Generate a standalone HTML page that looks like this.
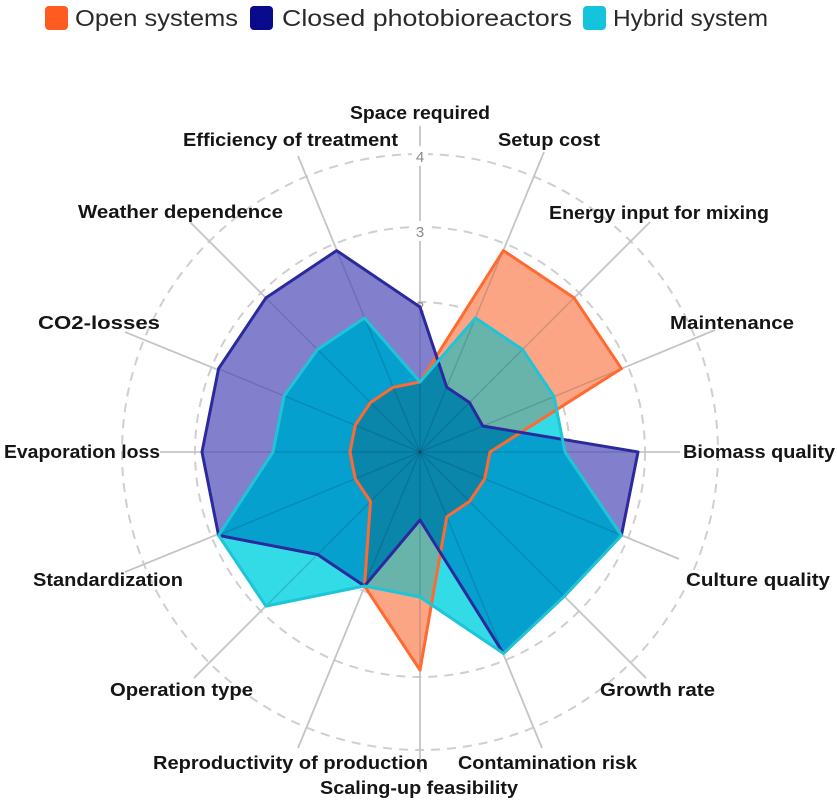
<!DOCTYPE html>
<html><head><meta charset="utf-8"><style>
html,body{margin:0;padding:0;background:#fff;}
svg{display:block;}
.lb{font-family:"Liberation Sans",sans-serif;font-weight:bold;font-size:18px;fill:#151515;}
.lg{font-family:"Liberation Sans",sans-serif;font-size:23px;fill:#2a2a2a;}
.tk{font-family:"Liberation Sans",sans-serif;font-size:15px;fill:#8a8a8a;}
</style></head><body>
<svg width="837" height="803" viewBox="0 0 837 803" xmlns="http://www.w3.org/2000/svg">
<defs>
<clipPath id="cP"><polygon points="420,307 446.8,387.3 469.5,402.5 482.8,426 638,452 621.4,535.4 564.2,596.2 503.4,653.4 420,520 364.5,586 317.5,554.5 218.6,535.4 202,452 218.6,368.6 265.9,297.9 336.6,250.6"/></clipPath>
<clipPath id="cO"><polygon points="420,382 503.4,250.6 574.1,297.9 621.4,368.6 490,452 484.7,478.8 469.5,501.5 446.8,516.7 420,670 364.5,586 370.5,501.5 355.3,478.8 350,452 355.3,425.2 370.5,402.5 393.2,387.3"/></clipPath>
</defs>
<!-- legend -->
<rect x="45" y="6" width="23" height="24" rx="4" fill="#ff5a1f"/>
<text class="lg" x="75" y="26" textLength="163" lengthAdjust="spacingAndGlyphs">Open systems</text>
<rect x="250" y="6" width="23" height="24" rx="4" fill="#0a0a8c"/>
<text class="lg" x="282" y="26" textLength="290" lengthAdjust="spacingAndGlyphs">Closed photobioreactors</text>
<rect x="583" y="6" width="23" height="24" rx="4" fill="#14c4dc"/>
<text class="lg" x="613" y="26" textLength="155" lengthAdjust="spacingAndGlyphs">Hybrid system</text>

<!-- grid circles -->
<g fill="none" stroke="#cfcfcf" stroke-width="2" stroke-dasharray="9 7">
<circle cx="420" cy="452" r="75"/><circle cx="420" cy="452" r="150"/><circle cx="420" cy="452" r="225"/><circle cx="420" cy="452" r="298"/>
</g>
<!-- axes -->
<g stroke="#c4c4c4" stroke-width="1.8">
<line x1="420" y1="452" x2="420" y2="126"/>
<line x1="420" y1="452" x2="544" y2="152"/>
<line x1="420" y1="452" x2="650" y2="222"/>
<line x1="420" y1="452" x2="715" y2="330"/>
<line x1="420" y1="452" x2="680" y2="452"/>
<line x1="420" y1="452" x2="679" y2="559"/>
<line x1="420" y1="452" x2="646" y2="678"/>
<line x1="420" y1="452" x2="542" y2="748"/>
<line x1="420" y1="452" x2="420" y2="772"/>
<line x1="420" y1="452" x2="298" y2="748"/>
<line x1="420" y1="452" x2="194" y2="678"/>
<line x1="420" y1="452" x2="125" y2="572"/>
<line x1="420" y1="452" x2="160" y2="452"/>
<line x1="420" y1="452" x2="125" y2="332"/>
<line x1="420" y1="452" x2="190" y2="222"/>
<line x1="420" y1="452" x2="298" y2="156"/>
</g>
<!-- tick labels -->
<rect x="412" y="146" width="16" height="20" fill="#fff"/>
<rect x="412" y="221" width="16" height="20" fill="#fff"/>
<text class="tk" x="420" y="162" text-anchor="middle">4</text>
<text class="tk" x="420" y="237" text-anchor="middle">3</text>
<text class="tk" x="420" y="312" text-anchor="middle">2</text>

<!-- fills -->
<polygon fill="#fba584" points="420,382 503.4,250.6 574.1,297.9 621.4,368.6 490,452 484.7,478.8 469.5,501.5 446.8,516.7 420,670 364.5,586 370.5,501.5 355.3,478.8 350,452 355.3,425.2 370.5,402.5 393.2,387.3"/>
<polygon fill="#8280cc" points="420,307 446.8,387.3 469.5,402.5 482.8,426 638,452 621.4,535.4 564.2,596.2 503.4,653.4 420,520 364.5,586 317.5,554.5 218.6,535.4 202,452 218.6,368.6 265.9,297.9 336.6,250.6"/>
<g clip-path="url(#cO)"><polygon fill="#c0785a" clip-path="url(#cP)" points="420,307 446.8,387.3 469.5,402.5 482.8,426 638,452 621.4,535.4 564.2,596.2 503.4,653.4 420,520 364.5,586 317.5,554.5 218.6,535.4 202,452 218.6,368.6 265.9,297.9 336.6,250.6"/></g>
<polygon fill="#33dbe6" points="420,382 475.5,318 522.5,349.5 554,396.5 565,452 621.4,535.4 564.2,596.2 503.4,653.4 420,597 364.5,586 265.9,606.1 218.6,535.4 273,452 284.2,395.7 317.5,349.5 364.5,318"/>
<g clip-path="url(#cP)"><polygon fill="#06a0cf" points="420,382 475.5,318 522.5,349.5 554,396.5 565,452 621.4,535.4 564.2,596.2 503.4,653.4 420,597 364.5,586 265.9,606.1 218.6,535.4 273,452 284.2,395.7 317.5,349.5 364.5,318"/></g>
<g clip-path="url(#cO)"><polygon fill="#68b4ab" points="420,382 475.5,318 522.5,349.5 554,396.5 565,452 621.4,535.4 564.2,596.2 503.4,653.4 420,597 364.5,586 265.9,606.1 218.6,535.4 273,452 284.2,395.7 317.5,349.5 364.5,318"/></g>
<g clip-path="url(#cO)"><g clip-path="url(#cP)"><polygon fill="#0a86ab" points="420,382 475.5,318 522.5,349.5 554,396.5 565,452 621.4,535.4 564.2,596.2 503.4,653.4 420,597 364.5,586 265.9,606.1 218.6,535.4 273,452 284.2,395.7 317.5,349.5 364.5,318"/></g></g>

<!-- axes overlay -->
<g stroke="rgba(0,30,70,0.16)" stroke-width="1.5">
<line x1="420" y1="452" x2="420" y2="307"/>
<line x1="420" y1="452" x2="503" y2="251"/>
<line x1="420" y1="452" x2="574" y2="298"/>
<line x1="420" y1="452" x2="621" y2="369"/>
<line x1="420" y1="452" x2="638" y2="452"/>
<line x1="420" y1="452" x2="621" y2="535"/>
<line x1="420" y1="452" x2="564" y2="596"/>
<line x1="420" y1="452" x2="503" y2="653"/>
<line x1="420" y1="452" x2="420" y2="670"/>
<line x1="420" y1="452" x2="364" y2="586"/>
<line x1="420" y1="452" x2="266" y2="606"/>
<line x1="420" y1="452" x2="219" y2="535"/>
<line x1="420" y1="452" x2="202" y2="452"/>
<line x1="420" y1="452" x2="219" y2="369"/>
<line x1="420" y1="452" x2="266" y2="298"/>
<line x1="420" y1="452" x2="337" y2="251"/>
</g>

<!-- strokes -->
<polygon fill="none" stroke="#ff6a30" stroke-width="3" stroke-linejoin="round" points="420,382 503.4,250.6 574.1,297.9 621.4,368.6 490,452 484.7,478.8 469.5,501.5 446.8,516.7 420,670 364.5,586 370.5,501.5 355.3,478.8 350,452 355.3,425.2 370.5,402.5 393.2,387.3"/>
<polygon fill="none" stroke="#2a2a9e" stroke-width="3" stroke-linejoin="round" points="420,307 446.8,387.3 469.5,402.5 482.8,426 638,452 621.4,535.4 564.2,596.2 503.4,653.4 420,520 364.5,586 317.5,554.5 218.6,535.4 202,452 218.6,368.6 265.9,297.9 336.6,250.6"/>
<polygon fill="none" stroke="#1ec4d8" stroke-width="3" stroke-linejoin="round" points="420,382 475.5,318 522.5,349.5 554,396.5 565,452 621.4,535.4 564.2,596.2 503.4,653.4 420,597 364.5,586 265.9,606.1 218.6,535.4 273,452 284.2,395.7 317.5,349.5 364.5,318"/>

<!-- labels -->
<text class="lb" x="350" y="119" textLength="140" lengthAdjust="spacingAndGlyphs">Space required</text>
<text class="lb" x="498" y="146" textLength="102" lengthAdjust="spacingAndGlyphs">Setup cost</text>
<text class="lb" x="549" y="219" textLength="220" lengthAdjust="spacingAndGlyphs">Energy input for mixing</text>
<text class="lb" x="670" y="329" textLength="124" lengthAdjust="spacingAndGlyphs">Maintenance</text>
<text class="lb" x="683" y="458" textLength="152" lengthAdjust="spacingAndGlyphs">Biomass quality</text>
<text class="lb" x="686" y="586" textLength="144" lengthAdjust="spacingAndGlyphs">Culture quality</text>
<text class="lb" x="600" y="696" textLength="115" lengthAdjust="spacingAndGlyphs">Growth rate</text>
<text class="lb" x="458" y="769" textLength="179" lengthAdjust="spacingAndGlyphs">Contamination risk</text>
<text class="lb" x="320" y="794" textLength="198" lengthAdjust="spacingAndGlyphs">Scaling-up feasibility</text>
<text class="lb" x="153" y="769" textLength="275" lengthAdjust="spacingAndGlyphs">Reproductivity of production</text>
<text class="lb" x="110" y="696" textLength="143" lengthAdjust="spacingAndGlyphs">Operation type</text>
<text class="lb" x="33" y="586" textLength="150" lengthAdjust="spacingAndGlyphs">Standardization</text>
<text class="lb" x="4" y="458" textLength="156" lengthAdjust="spacingAndGlyphs">Evaporation loss</text>
<text class="lb" x="38" y="329" textLength="122" lengthAdjust="spacingAndGlyphs">CO2-losses</text>
<text class="lb" x="78" y="218" textLength="205" lengthAdjust="spacingAndGlyphs">Weather dependence</text>
<text class="lb" x="183" y="146" textLength="215" lengthAdjust="spacingAndGlyphs">Efficiency of treatment</text>
</svg>
</body></html>
